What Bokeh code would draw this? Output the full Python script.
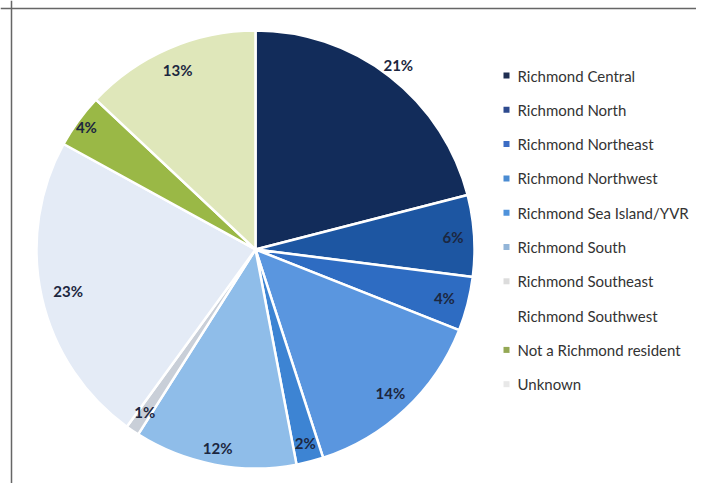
import math
from bokeh.plotting import figure
from bokeh.models import Range1d, Span, ColumnDataSource
from bokeh.core.properties import value
from bokeh.embed import file_html
from bokeh.resources import INLINE

# ---- data ----
categories = ["Richmond Central", "Richmond North", "Richmond Northeast",
              "Richmond Northwest", "Richmond Sea Island/YVR", "Richmond South",
              "Richmond Southeast", "Richmond Southwest", "Not a Richmond resident",
              "Unknown"]
shares = [21, 6, 4, 14, 2, 12, 1, 23, 4, 13]
labels = ["21%", "6%", "4%", "14%", "2%", "12%", "1%", "23%", "4%", "13%"]

# ---- style ----
slice_colors = ["#122c5a", "#1d56a2", "#2e6cc2", "#5a96df", "#3d84d3",
                "#8fbde9", "#c9cfd8", "#e4ebf6", "#9ab846", "#dfe7ba"]
legend_colors = ["#1f2f52", "#2d4a8e", "#3b6cc4", "#4a8bd2", "#4f92db",
                 "#93b5d8", "#dcdcdc", "#ffffff", "#94a854", "#e8e8e8"]
label_radius = [233, 198, 195, 197, 200, 202, 197, 192, 209, 196]

W, H = 696, 483
p = figure(width=W, height=H, output_backend="svg", toolbar_location=None,
           x_range=Range1d(0, W), y_range=Range1d(-H, 0),
           min_border=0, min_border_left=0, min_border_right=0,
           min_border_top=0, min_border_bottom=0)
p.axis.visible = False
p.grid.visible = False
p.outline_line_color = None
p.background_fill_color = "white"
p.border_fill_color = "white"

cx, cy, R = 255, -249, 219

total = sum(shares)
starts, ends, lx, ly = [], [], [], []
cum = 0.0
for s, lr in zip(shares, label_radius):
    a0 = cum / total * 360.0
    a1 = (cum + s) / total * 360.0
    starts.append(math.radians(90 - a0))
    ends.append(math.radians(90 - a1))
    mid = math.radians((a0 + a1) / 2)
    lx.append(cx + lr * math.sin(mid))
    ly.append(cy + lr * math.cos(mid))
    cum += s

src = ColumnDataSource(dict(start=starts, end=ends, color=slice_colors,
                            lx=lx, ly=ly, label=labels))
p.wedge(x=cx, y=cy, radius=R, start_angle="start", end_angle="end",
        direction="clock", fill_color="color", line_color="white",
        line_width=2.5, source=src)
p.text(x="lx", y="ly", text="label", source=src, text_align="center",
       text_baseline="middle", text_font=value("Lato"), text_font_style="bold",
       text_font_size="15px", text_color="#1c2740")

# legend
leg_x, leg_y0, leg_dy = 506, -75, -34.3
ly_leg = [leg_y0 + i * leg_dy for i in range(len(categories))]
lsrc = ColumnDataSource(dict(x=[leg_x] * len(categories), tx=[leg_x + 11] * len(categories),
                             y=ly_leg, color=legend_colors, name=categories))
p.scatter(x="x", y="y", marker="square", size=6, fill_color="color",
          line_color=None, source=lsrc)
p.text(x="tx", y="y", text="name", source=lsrc, text_align="left",
       text_baseline="middle", text_font=value("Lato"), text_font_size="15px",
       text_color="#333333")

# frame lines
p.add_layout(Span(location=-8, dimension="width", line_color="#666666", line_width=1.5))
p.add_layout(Span(location=11, dimension="height", line_color="#666666", line_width=1.5))

open("out.html", "w").write(file_html(p, INLINE))
